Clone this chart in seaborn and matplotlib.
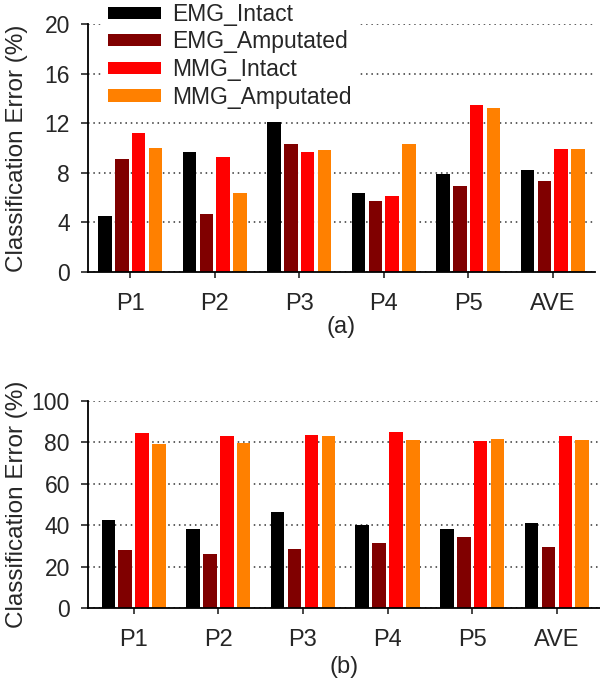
import matplotlib
matplotlib.use("Agg")
import matplotlib.pyplot as plt
import pandas as pd
import seaborn as sns

participants = ["P1", "P2", "P3", "P4", "P5", "AVE"]
series = ["EMG_Intact", "EMG_Amputated", "MMG_Intact", "MMG_Amputated"]
colors = ["#000000", "#800000", "#ff0000", "#ff8000"]

# panel (a) values, classification error (%)
a_emg_intact = [4.5, 9.7, 12.1, 6.4, 7.9, 8.2]
a_emg_amputated = [9.1, 4.7, 10.3, 5.7, 6.9, 7.3]
a_mmg_intact = [11.2, 9.3, 9.7, 6.1, 13.5, 9.9]
a_mmg_amputated = [10.0, 6.4, 9.8, 10.3, 13.2, 9.9]

# panel (b) values
b_emg_intact = [42.4, 38.4, 46.3, 40.0, 38.3, 41.0]
b_emg_amputated = [27.8, 26.0, 28.3, 31.2, 34.2, 29.6]
b_mmg_intact = [84.4, 83.0, 83.8, 85.0, 80.5, 83.3]
b_mmg_amputated = [79.3, 79.7, 83.0, 81.2, 81.8, 81.2]


def to_long(cols):
    rows = []
    for name, vals in zip(series, cols):
        for p, v in zip(participants, vals):
            rows.append({"participant": p, "series": name, "error": v})
    return pd.DataFrame(rows)


df_a = to_long([a_emg_intact, a_emg_amputated, a_mmg_intact, a_mmg_amputated])
df_b = to_long([b_emg_intact, b_emg_amputated, b_mmg_intact, b_mmg_amputated])

sns.set_style("ticks")
plt.rcParams["font.family"] = ["Liberation Sans", "DejaVu Sans"]

W, H = 600, 682
fig = plt.figure(figsize=(6, 6.82), dpi=100)
ax_a = fig.add_axes([88 / W, 1 - 272 / H, (595 - 88) / W, (272 - 24) / H])
ax_b = fig.add_axes([88 / W, 1 - 608 / H, (600 - 88) / W, (608 - 401) / H])

palette = dict(zip(series, colors))

for ax, df, ymax, step, xlim, cap, cap_y in [
    (ax_a, df_a, 20, 4, (-0.5, 5.5), "(a)", 327),
    (ax_b, df_b, 100, 20, (-0.54, 5.51), "(b)", 667),
]:
    sns.barplot(data=df, x="participant", y="error", hue="series",
                palette=palette, width=0.8, gap=0.2, linewidth=0,
                saturation=1, ax=ax, legend=(ax is ax_a))
    ax.set_xlim(*xlim)
    ax.set_ylim(0, ymax)
    ax.set_yticks(range(0, ymax + 1, step))
    ax.set_axisbelow(True)
    ax.yaxis.grid(True, linestyle=(0, (1, 2.5)), color="#333333", linewidth=1.1)
    for s in ["top", "right"]:
        ax.spines[s].set_visible(False)
    for s in ["left", "bottom"]:
        ax.spines[s].set_linewidth(1.3)
        ax.spines[s].set_color("black")
    ax.tick_params(axis="y", labelsize=16.5, length=5, width=1.2, pad=8)
    ax.tick_params(axis="x", labelsize=17, length=4, width=1.2, pad=11)
    ax.set_xlabel("")
    ax.set_ylabel("Classification Error (%)", fontsize=17.5)
    ax.yaxis.set_label_coords(-0.118, 0.5)
    fig.text(ax.get_position().x0 + ax.get_position().width / 2,
             1 - cap_y / H, cap, ha="center", va="center", fontsize=17)

handles, labels = ax_a.get_legend_handles_labels()
ax_a.get_legend().remove()
leg = fig.legend(handles, labels, loc="upper left",
                 bbox_to_anchor=(101 / W, 1 + 4 / H), fontsize=16.5,
                 handlelength=2.3, handleheight=0.45, handletextpad=0.5,
                 labelspacing=0.2, borderpad=0.3, borderaxespad=0,
                 frameon=True, fancybox=False, framealpha=1,
                 facecolor="white", edgecolor="none")

fig.savefig("out.png", dpi=100)
